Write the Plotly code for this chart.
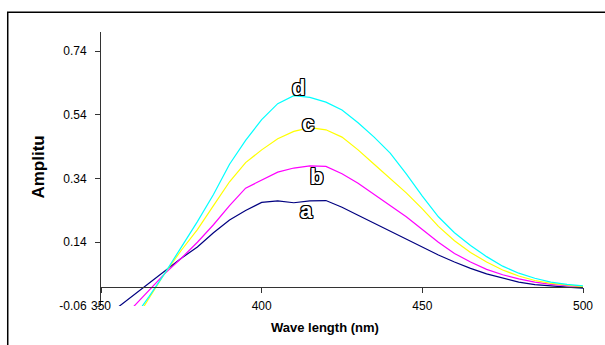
import plotly.graph_objects as go

# Wavelength grid (nm)
wavelength = [350, 355, 360, 365, 370, 375, 380, 385, 390, 395, 400, 405, 410, 415, 420,
              425, 430, 435, 440, 445, 450, 455, 460, 465, 470, 475, 480, 485, 490, 495, 500]

# Amplitude values
amp_a = [-0.105, -0.066, -0.028, 0.012, 0.053, 0.090, 0.125, 0.170, 0.210, 0.240, 0.265, 0.270,
         0.264, 0.270, 0.271, 0.250, 0.225, 0.200, 0.175, 0.150, 0.124, 0.100, 0.078, 0.058,
         0.041, 0.027, 0.015, 0.007, 0.002, -0.001, -0.004]
amp_b = [-0.170, -0.117, -0.064, -0.010, 0.043, 0.090, 0.140, 0.195, 0.255, 0.310, 0.335, 0.360,
         0.373, 0.380, 0.378, 0.355, 0.325, 0.290, 0.255, 0.220, 0.180, 0.140, 0.105, 0.078,
         0.055, 0.038, 0.025, 0.015, 0.008, 0.003, 0.000]
amp_c = [-0.290, -0.200, -0.115, -0.035, 0.045, 0.115, 0.180, 0.255, 0.330, 0.390, 0.430, 0.465,
         0.488, 0.500, 0.493, 0.470, 0.430, 0.385, 0.340, 0.295, 0.245, 0.190, 0.145, 0.108,
         0.078, 0.053, 0.034, 0.020, 0.011, 0.005, 0.001]
amp_d = [-0.260, -0.180, -0.100, -0.030, 0.045, 0.125, 0.205, 0.290, 0.385, 0.460, 0.525, 0.575,
         0.600, 0.595, 0.580, 0.555, 0.515, 0.470, 0.420, 0.355, 0.285, 0.220, 0.170, 0.130,
         0.095, 0.065, 0.043, 0.027, 0.015, 0.008, 0.003]

series_names = ["a", "b", "c", "d"]
series_values = [amp_a, amp_b, amp_c, amp_d]
series_colors = ["#000080", "#FF00FF", "#FFFF00", "#00FFFF"]

# Axis ticks
x_tick_values = [350, 400, 450, 500]
x_tick_labels = ["350", "400", "450", "500"]
y_tick_values = [-0.06, 0.14, 0.34, 0.54, 0.74]
y_tick_labels = ["-0.06", "0.14", "0.34", "0.54", "0.74"]

# Curve label positions (data coords)
label_x = [414.1, 417.2, 414.3, 411.5]
label_y = [0.240, 0.345, 0.5125, 0.627]

fig = go.Figure()
for name, vals, col in zip(series_names, series_values, series_colors):
    fig.add_trace(go.Scatter(x=wavelength, y=vals, mode="lines", name=name,
                             line=dict(color=col, width=1.2), showlegend=False))

outline = ("1px 0 0 #000, -1px 0 0 #000, 0 1px 0 #000, 0 -1px 0 #000, "
           "1px 1px 0 #000, -1px -1px 0 #000, 1px -1px 0 #000, -1px 1px 0 #000")
for name, lx, ly in zip(series_names, label_x, label_y):
    fig.add_annotation(x=lx, y=ly, xref="x", yref="y", text=name, showarrow=False,
                       font=dict(family="Arial", size=22, color="white", weight="bold",
                                 shadow=outline))

fig.add_annotation(x=0.4653, y=-0.0794, xref="paper", yref="paper",
                   xanchor="center", yanchor="middle",
                   text="<b>Wave length (nm)</b>", showarrow=False,
                   font=dict(family="Arial", size=13, color="black"))
fig.add_annotation(x=-0.1297, y=0.507, xref="paper", yref="paper",
                   xanchor="center", yanchor="middle",
                   text="<b>Amplitu</b>", showarrow=False, textangle=-90,
                   font=dict(family="Arial", size=17, color="black"))

# chart frame
fig.add_shape(type="rect", xref="paper", yref="paper",
              x0=-0.1935, x1=1.06, y0=-0.2, y1=1.0718,
              line=dict(color="black", width=1.5), layer="above")

fig.update_layout(
    width=605, height=345, autosize=False,
    margin=dict(l=101, r=18, t=32, b=39),
    paper_bgcolor="white", plot_bgcolor="white",
    font=dict(family="Arial", size=12, color="black"),
    xaxis=dict(range=[350, 500], tickvals=x_tick_values, ticktext=x_tick_labels,
               showgrid=False, zeroline=False,
               showline=True, linecolor="#333", linewidth=1, ticks="outside", ticklen=5,
               tickcolor="#333", anchor="free", position=0.0698, ticklabelstandoff=3,
               tickfont=dict(family="Arial", size=12, color="black")),
    yaxis=dict(range=[-0.06, 0.80], tickvals=y_tick_values, ticktext=y_tick_labels,
               showgrid=False, zeroline=False, showline=True, linecolor="#333",
               linewidth=1, ticks="outside", ticklen=5, tickcolor="#333",
               ticklabelstandoff=6,
               tickfont=dict(family="Arial", size=12, color="black")),
)

fig.write_html("out.html", config={"displayModeBar": False},
               post_script="document.body.style.margin='0';document.body.style.padding='0';")
